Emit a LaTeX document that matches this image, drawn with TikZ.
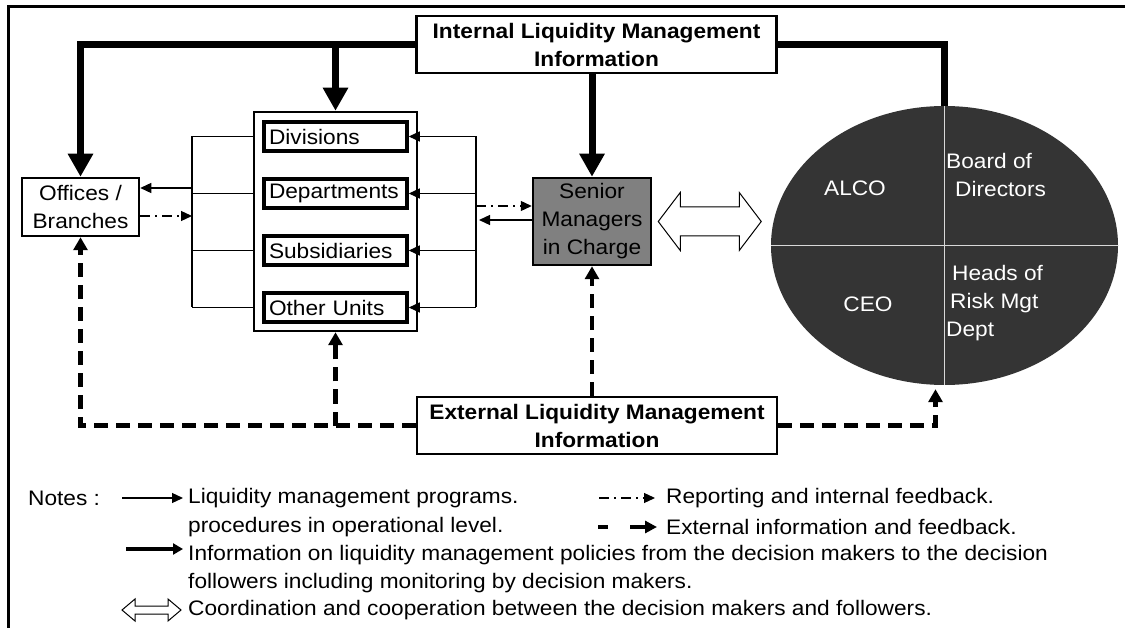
\documentclass[tikz,border=0pt]{standalone}
\usepackage{fontspec}
\setmainfont[FakeStretch=1.08]{Liberation Sans}
\usetikzlibrary{calc,arrows.meta,shapes.geometric}

\definecolor{seniorgray}{HTML}{808080}
\definecolor{boardgray}{HTML}{343434}
\definecolor{splitgray}{HTML}{D8D8D8}

% hollow two-headed arrow: start, length, head length, head half, shaft half
\newcommand{\hollowarrow}[5]{%
  \draw[line width=1pt, fill=white, line join=miter] #1 -- ++(#3,-#4) -- ++(0,#4-#5)
    -- ++(#2-2*#3,0) -- ++(0,#5-#4) -- ++(#3,#4) -- ++(-#3,#4) -- ++(0,#5-#4)
    -- ++(-#2+2*#3,0) -- ++(0,#4-#5) -- cycle;
}

\begin{document}
\begin{tikzpicture}[
    x=1pt, y=-1pt,
    box/.style = {
        rectangle,
        draw=black,
        line width=2.5pt,
        inner sep=0pt,
        align=center,
        font=\fontsize{21}{28}\selectfont
    },
    infobox/.style  = {box, minimum width=360pt, minimum height=57pt, font=\fontsize{21}{28}\selectfont\bfseries},
    unitbox/.style  = {box, line width=3.5pt, minimum height=29pt, text width=133pt, inner xsep=5pt, align=left},
    boardtext/.style = {text=white, align=left, inner sep=0pt, font=\fontsize{21}{28}\selectfont},
    note/.style     = {anchor=west, inner sep=0pt, font=\fontsize{21}{28}\selectfont},
    linkline/.style    = {line width=1.3pt},
    progarrow/.style   = {-{Triangle[length=11pt,width=10pt]}, line width=1.3pt},
    reportarrow/.style = {progarrow, dash pattern=on 10pt off 5pt on 2pt off 5pt},
    policyline/.style  = {line width=7pt},
    policyarrow/.style = {policyline, -{Triangle[length=23pt,width=24pt]}},
    extarrow/.style    = {-{Triangle[length=13pt,width=14pt]}, line width=4.5pt, dash pattern=on 14pt off 8pt},
    splitline/.style   = {draw=splitgray, line width=1.5pt}
]
\useasboundingbox (0,0) rectangle (1125,628);

% Spacing of the unit boxes
\def\unitgap{57}

% Frame
\draw[line width=3pt] (8,628) -- (8,7) -- (1125,7);

% Information boxes
\node[infobox] (intinfo) at (596.5,44.5) {Internal Liquidity Management\\Information};
\node[infobox] (extinfo) at (597,425.5) {External Liquidity Management\\Information};

% Offices, units and senior managers
\node[box, minimum width=117pt, minimum height=58pt] (office) at (80.5,207) {Offices /\\Branches};
\node[box, minimum width=163pt, minimum height=219pt] (units) at (335.5,221.5) {};
\foreach \name/\txt [count=\i from 0] in {div/Divisions, dept/Departments, subs/Subsidiaries, other/Other Units} {
    \node[unitbox] (\name) at (335.5,{136.5+\unitgap*\i}) {\txt};
}
\node[box, fill=seniorgray, minimum width=118pt, minimum height=87pt] (senior) at (592,221.5) {Senior\\Managers\\in Charge};

% Decision makers
\node[ellipse, fill=boardgray, minimum width=347pt, minimum height=279pt, inner sep=0pt] (board) at (944.5,245.5) {};
\draw[splitline] (board.north) -- (board.south);
\draw[splitline] (board.west) -- (board.east);
\node[boardtext] at (855,188) {ALCO};
\node[boardtext, anchor=west] at (946,175) {Board of\\\hspace*{9pt}Directors};
\node[boardtext] at (868,304) {CEO};
\node[boardtext, anchor=west] at (946,303) {\hspace*{6pt}Heads of\\\hspace*{4pt}Risk Mgt\\Dept};

% Brackets round the units
\coordinate (lbar) at (192,0);
\coordinate (rbar) at (476,0);
\draw[linkline] (div.west -| lbar) -- (other.west -| lbar);
\draw[linkline] (div.east -| rbar) -- (other.east -| rbar);
\foreach \name in {div, dept, subs, other} {
    \draw[linkline] (\name.west -| lbar) -- (\name.west -| units.west);
    \draw[progarrow] (\name.east -| rbar) -- (\name.east);
}

% Arrows - programs and reporting
\coordinate (o1) at ($(office.east)+(0,-19)$);
\coordinate (o2) at ($(office.east)+(0,9)$);
\draw[progarrow] (o1 -| lbar) -- (o1);
\draw[reportarrow] (o2) -- (o2 -| lbar);
\coordinate (s1) at ($(senior.west)+(0,-15.5)$);
\coordinate (s2) at ($(senior.west)+(0,-1.5)$);
\draw[reportarrow] (s1 -| rbar) -- (s1);
\draw[progarrow] (s2) -- ($(s2 -| rbar)+(3,0)$);

% Arrows - policies from the decision makers
\draw[policyarrow] (intinfo.west) -| (office.north);
\draw[policyarrow] (intinfo.west -| units.north) -- (units.north);
\draw[policyarrow] (intinfo.south -| senior.north) -- (senior.north);
\draw[policyline] (intinfo.east) -| (board.north);

% Arrows - external information
\coordinate (btip) at ($(board.south)+(-9,4)$);
\draw[extarrow] (extinfo.west) -| (office.south);
\draw[extarrow] (extinfo.west -| units.south) -- (units.south);
\draw[extarrow] (extinfo.north -| senior.south) -- (senior.south);
\draw[extarrow] (extinfo.east) -| (btip);

% Coordination
\hollowarrow{([xshift=6pt]senior.east)}{103}{22}{29}{14.5}

% Notes
\node[note] (notes) at (28,498) {Notes :};
\node[note] (n1) at (188,498) {Liquidity management programs.};
\node[note] (n2) at (188,527) {procedures in operational level.};
\node[note] (n3) at (188,555) {Information on liquidity management policies from the decision makers to the decision};
\node[note] (n4) at (188,583) {followers including monitoring by decision makers.};
\node[note] (n5) at (188,610) {Coordination and cooperation between the decision makers and followers.};
\node[note] (n6) at (666,498) {Reporting and internal feedback.};
\node[note] (n7) at (666,527) {External information and feedback.};

\draw[progarrow] ([xshift=-66pt]n1.west) -- ([xshift=-5pt]n1.west);
\draw[line width=4pt, -{Triangle[length=10pt,width=11pt]}] ([xshift=-62pt,yshift=6pt]n3.west) -- ([xshift=-5pt,yshift=6pt]n3.west);
\draw[reportarrow] ([xshift=-67pt]n6.west) -- ([xshift=-11pt]n6.west);
\draw[line width=4pt, -{Triangle[length=12pt,width=12pt]}, dash pattern=on 10pt off 22pt on 30pt off 0pt] ([xshift=-68pt]n7.west) -- ([xshift=-9pt]n7.west);
\hollowarrow{([xshift=-66pt]n5.west)}{59}{13}{11}{4}

\end{tikzpicture}
\end{document}
